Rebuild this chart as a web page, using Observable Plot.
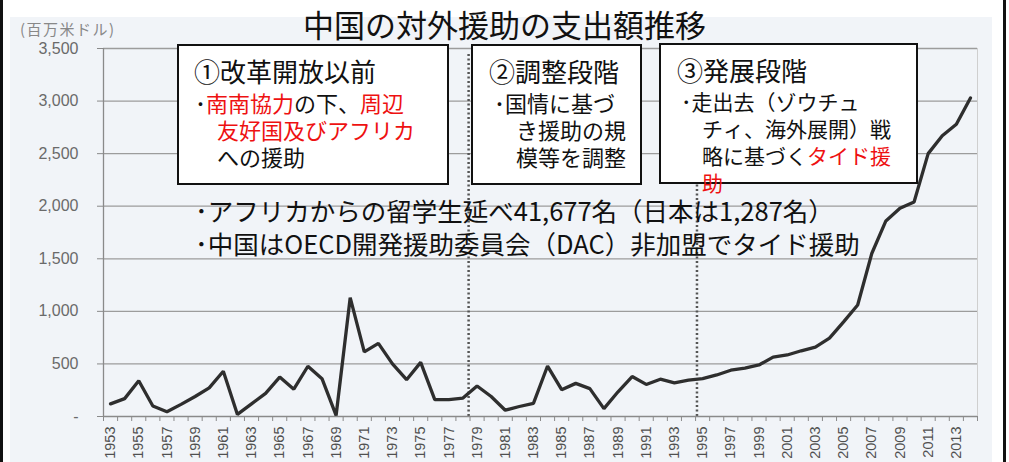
<!DOCTYPE html>
<html><head><meta charset="utf-8">
<script src="https://cdn.jsdelivr.net/npm/d3@7"></script>
<script src="https://cdn.jsdelivr.net/npm/@observablehq/plot@0.6"></script>
<style>
body{margin:0;background:#fff;}
#wrap{position:relative;width:1009px;height:462px;overflow:hidden;font-family:"Noto Sans CJK JP",sans-serif;color:#111;}
#bg{position:absolute;left:10px;top:17px;width:982px;height:445px;background:#f1f4f8;}
#chart{position:absolute;left:0;top:0;}
.frame{position:absolute;top:0;width:3px;height:462px;background:#111;}
#title{position:absolute;left:0;top:8px;width:1009px;text-align:center;font-size:31px;line-height:31px;white-space:nowrap;}
#unit{position:absolute;left:20px;top:20px;font-size:15px;line-height:18px;color:#888;white-space:nowrap;letter-spacing:1.5px;}
.box{position:absolute;background:#fff;border:2px solid #111;box-sizing:border-box;}
.txt{position:absolute;white-space:pre;}
.bt{font-size:26px;line-height:30px;}
.bb{font-size:22px;line-height:27px;}
.red{color:#ee1111;}
.mid{font-size:25.5px;line-height:33px;}
</style></head><body>
<div id="wrap">
  <div id="bg"></div>
  <div id="chart"></div>
  <div class="frame" style="left:0"></div>
  <div class="frame" style="left:1003px"></div>
  <div id="title"></div>
  <div id="unit"></div>

  <div class="box" style="left:177px;top:44px;width:272px;height:141px"></div>
  <div class="txt bt" style="left:194px;top:56px">①改革開放以前</div>
  <div class="txt bb" style="left:195px;top:89px">･<span class="red">南南協力</span>の下、<span class="red">周辺</span>
　<span class="red">友好国及びアフリカ</span>
　への援助</div>

  <div class="box" style="left:471px;top:44px;width:171px;height:141px"></div>
  <div class="txt bt" style="left:489px;top:56px">②調整段階</div>
  <div class="txt bb" style="left:494px;top:89px">･国情に基づ
　き援助の規
　模等を調整</div>

  <div class="box" style="left:659px;top:43px;width:259px;height:141px"></div>
  <div class="txt bt" style="left:677px;top:55px">③発展段階</div>
  <div class="txt bb" style="left:681px;top:88px;font-size:21px">･走出去（ゾウチュ
　チィ、海外展開）戦
　略に基づく<span class="red">タイド援</span>
　<span class="red">助</span></div>

  <div class="txt mid" style="left:195px;top:193px">･アフリカからの留学生延べ41,677名（日本は1,287名）
･中国はOECD開発援助委員会（DAC）非加盟でタイド援助</div>
</div>
<script>
// ---- data ----
const titleText = "中国の対外援助の支出額推移";
const unitText = "(百万米ドル)";
const years = [1953,1954,1955,1956,1957,1958,1959,1960,1961,1962,1963,1964,1965,1966,1967,1968,1969,1970,
  1971,1972,1973,1974,1975,1976,1977,1978,1979,1980,1981,1982,1983,1984,1985,1986,1987,1988,1989,1990,
  1991,1992,1993,1994,1995,1996,1997,1998,1999,2000,2001,2002,2003,2004,2005,2006,2007,2008,2009,2010,
  2011,2012,2013,2014];
const aid = [120,170,340,100,45,115,190,272,430,20,120,220,375,260,478,360,10,1130,
  615,695,500,350,515,160,160,175,290,190,60,95,125,480,255,315,265,75,235,380,
  305,355,320,345,360,395,440,460,490,565,585,625,660,745,900,1060,1550,1860,1980,2040,
  2500,2670,2780,3030];
const yTicks = [0,500,1000,1500,2000,2500,3000,3500];
const yTickLabels = ["-","500","1,000","1,500","2,000","2,500","3,000","3,500"];
const xLabelYears = [1953,1955,1957,1959,1961,1963,1965,1967,1969,1971,1973,1975,1977,1979,1981,1983,
  1985,1987,1989,1991,1993,1995,1997,1999,2001,2003,2005,2007,2009,2011,2013];
const phaseBreaks = [1978.4, 1994.6];

document.getElementById("title").textContent = titleText;
document.getElementById("unit").textContent = unitText;

const data = years.map((year, i) => ({year, value: aid[i]}));
const boundaries = years.map(y => y - 0.5).concat([years[years.length - 1] + 0.5]);
const yLabel = new Map(yTicks.map((t, i) => [t, yTickLabels[i]]));
const x0 = years[0] - 0.5, x1 = years[years.length - 1] + 0.5;

const chart = Plot.plot({
  width: 1009, height: 462,
  marginLeft: 103, marginRight: 32, marginTop: 48, marginBottom: 46,
  style: {background: "transparent", fontFamily: "'Liberation Sans', sans-serif", color: "#666", overflow: "visible"},
  x: {domain: [x0, x1]},
  y: {domain: [0, 3500]},
  marks: [
    Plot.ruleY(yTicks.slice(1), {stroke: "#9c9c9c", strokeWidth: 1.3}),
    Plot.ruleX([x1], {y1: 0, y2: 3500, stroke: "#cfcfcf", strokeWidth: 1}),
    Plot.ruleX(phaseBreaks, {y1: 0, y2: 3500, insetBottom: -6, stroke: "#555", strokeWidth: 2.5, strokeDasharray: "2,2.5"}),
    Plot.axisY({ticks: yTicks, tickFormat: d => yLabel.get(d), tickSize: 6, tickPadding: 19,
      fontSize: 16, fill: "#6a6a6a", stroke: "#8a8a8a", label: null}),
    Plot.axisX({ticks: boundaries, tickFormat: () => "", tickSize: 5, stroke: "#8a8a8a", label: null}),
    Plot.axisX({ticks: xLabelYears, tickFormat: d => String(d), tickSize: 0, tickPadding: 10,
      tickRotate: -90, fontSize: 14.5, fill: "#505050", label: null}),
    Plot.ruleX([x0], {y1: 0, y2: 3500, stroke: "#8a8a8a", strokeWidth: 1.3}),
    Plot.ruleY([0], {stroke: "#8a8a8a", strokeWidth: 1.3}),
    Plot.line(data, {x: "year", y: "value", stroke: "#2e2e2e", strokeWidth: 3.3, strokeLinejoin: "miter"})
  ]
});
document.getElementById("chart").appendChild(chart);
</script>
</body></html>
